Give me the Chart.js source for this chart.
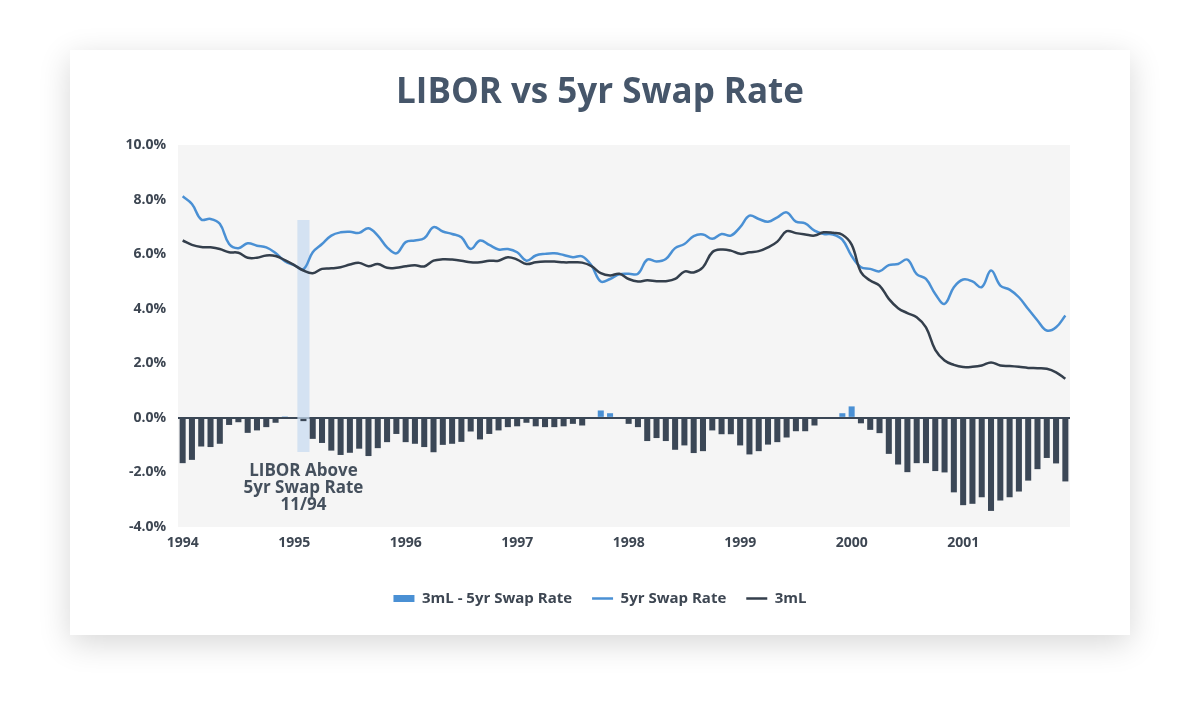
<!DOCTYPE html>
<html>
<head>
<meta charset="utf-8">
<title>LIBOR vs 5yr Swap Rate</title>
<script src="https://cdn.jsdelivr.net/npm/chart.js@4.4.1/dist/chart.umd.min.js"></script>
<style>
  body { margin: 0; background: #fff; width: 1200px; height: 724px; overflow: hidden; position: relative; }
  #card { position: absolute; left: 70px; top: 50px; width: 1060px; height: 585px; background: #fff;
          box-shadow: 0 8px 30px rgba(0, 0, 0, 0.16); }
  #chart { position: absolute; left: 0; top: 0; }
</style>
</head>
<body>
<div id="card"></div>
<canvas id="chart" width="1200" height="724"></canvas>
<script>
// monthly, Jan 1994 - Dec 2001
const years = [1994, 1995, 1996, 1997, 1998, 1999, 2000, 2001];
const months = ['Jan', 'Feb', 'Mar', 'Apr', 'May', 'Jun', 'Jul', 'Aug', 'Sep', 'Oct', 'Nov', 'Dec'];

// 3 month LIBOR (%)
const libor = [
  6.50, 6.34, 6.26, 6.25, 6.19, 6.07, 6.05, 5.87, 5.87, 5.95, 5.93, 5.78,
  5.60, 5.40, 5.30, 5.46, 5.48, 5.52, 5.62, 5.68, 5.56, 5.64, 5.50, 5.50,
  5.56, 5.59, 5.55, 5.76, 5.81, 5.80, 5.76, 5.70, 5.70, 5.76, 5.76, 5.89,
  5.80, 5.64, 5.70, 5.73, 5.73, 5.70, 5.70, 5.69, 5.56, 5.30, 5.22, 5.28,
  5.09, 5.00, 5.04, 5.01, 5.01, 5.09, 5.36, 5.33, 5.52, 6.07, 6.17, 6.13,
  6.01, 6.07, 6.11, 6.25, 6.46, 6.84, 6.77, 6.72, 6.68, 6.80, 6.78, 6.71,
  6.35, 5.34, 5.03, 4.85, 4.36, 4.02, 3.84, 3.69, 3.32, 2.49, 2.10, 1.94,
  1.86, 1.87, 1.92, 2.03, 1.92, 1.90, 1.87, 1.83, 1.82, 1.80, 1.67, 1.43
];

// 5yr swap rate (%)
const swap = [
  8.12, 7.84, 7.27, 7.29, 7.11, 6.37, 6.22, 6.40, 6.31, 6.25, 6.04, 5.74,
  5.60, 5.45, 6.07, 6.37, 6.68, 6.80, 6.82, 6.78, 6.95, 6.68, 6.25, 6.03,
  6.44, 6.50, 6.58, 6.99, 6.83, 6.74, 6.62, 6.19, 6.50, 6.34, 6.17, 6.19,
  6.07, 5.76, 5.95, 6.01, 6.03, 5.97, 5.89, 5.92, 5.58, 5.00, 5.09, 5.26,
  5.28, 5.28, 5.80, 5.73, 5.82, 6.22, 6.37, 6.66, 6.72, 6.56, 6.74, 6.68,
  6.99, 7.41, 7.29, 7.19, 7.35, 7.53, 7.19, 7.13, 6.86, 6.74, 6.72, 6.53,
  5.93, 5.52, 5.46, 5.37, 5.60, 5.64, 5.80, 5.27, 5.09, 4.54, 4.18, 4.79,
  5.07, 5.00, 4.79, 5.40, 4.85, 4.70, 4.42, 3.99, 3.57, 3.20, 3.32, 3.75
];

// 3mL - 5yr swap (%)
const spread = [
  -1.66, -1.54, -1.05, -1.07, -0.95, -0.26, -0.16, -0.55, -0.46, -0.34, -0.18, 0.05,
  0, -0.12, -0.77, -0.92, -1.20, -1.36, -1.28, -1.13, -1.40, -1.11, -0.89, -0.59,
  -0.89, -0.95, -1.07, -1.26, -0.99, -0.95, -0.88, -0.50, -0.79, -0.59, -0.46, -0.34,
  -0.31, -0.18, -0.31, -0.34, -0.34, -0.31, -0.22, -0.28, 0, 0.27, 0.17, 0,
  -0.22, -0.34, -0.85, -0.74, -0.85, -1.17, -1.01, -1.29, -1.22, -0.46, -0.60, -0.60,
  -1.01, -1.34, -1.22, -0.98, -0.89, -0.72, -0.49, -0.49, -0.28, 0, 0, 0.17,
  0.42, -0.20, -0.44, -0.56, -1.32, -1.71, -1.99, -1.66, -1.66, -1.95, -2.00, -2.73,
  -3.20, -3.15, -2.91, -3.41, -3.03, -2.91, -2.70, -2.30, -1.88, -1.47, -1.67, -2.33
];

// shaded marker and its note
const markIndex = 13;
const markRange = [-1.25, 7.25];
const noteLines = ['LIBOR Above', '5yr Swap Rate', '11/94'];
const noteTop = -1.95;

const BLUE = '#4a90d4';
const DARK = '#3b4756';
const SLATE = '#46566a';
const TEXT = '#3d4652';

const categories = years.flatMap(y => months.map(m => m + ' ' + y));
const band = categories.map((c, i) => i === markIndex ? markRange : null);

const plotBg = {
  id: 'plotBg',
  beforeDraw(chart) {
    const { ctx, chartArea: a } = chart;
    ctx.save();
    ctx.fillStyle = '#f5f5f5';
    ctx.fillRect(a.left, a.top, a.right - a.left, a.bottom - a.top);
    ctx.restore();
  }
};

const note = {
  id: 'note',
  afterDatasetsDraw(chart) {
    const { ctx, scales: { x, y } } = chart;
    ctx.save();
    ctx.font = 'bold 17px "Open Sans"';
    ctx.fillStyle = '#45505d';
    ctx.textAlign = 'center';
    ctx.textBaseline = 'middle';
    const cx = x.getPixelForValue(markIndex);
    const top = y.getPixelForValue(noteTop);
    noteLines.forEach((t, k) => ctx.fillText(t, cx, top + k * 17));
    ctx.restore();
  }
};

new Chart(document.getElementById('chart'), {
  type: 'bar',
  data: {
    labels: categories,
    datasets: [{
      type: 'bar',
      label: '3mL - 5yr Swap Rate',
      data: spread,
      backgroundColor: c => c.raw < 0 ? DARK : BLUE,
      borderWidth: 0,
      barPercentage: 0.65,
      categoryPercentage: 1,
      grouped: false,
      pointStyle: 'rect',
      order: 3
    },
    {
      type: 'line',
      label: '5yr Swap Rate',
      data: swap,
      borderColor: BLUE,
      backgroundColor: BLUE,
      borderWidth: 2.5,
      pointRadius: 0,
      tension: 0.4,
      pointStyle: 'line',
      order: 2
    },
    {
      type: 'line',
      label: '3mL',
      data: libor,
      borderColor: '#343f4c',
      backgroundColor: '#343f4c',
      borderWidth: 2.5,
      pointRadius: 0,
      tension: 0.4,
      pointStyle: 'line',
      order: 1
    },
    {
      type: 'bar',
      label: '',
      data: band,
      backgroundColor: 'rgba(200, 219, 240, 0.75)',
      borderWidth: 0,
      barPercentage: 1.3,
      categoryPercentage: 1,
      grouped: false,
      order: 10
    }]
  },
  options: {
    responsive: false,
    animation: false,
    layout: {
      padding: { left: 70, right: 70, top: 50, bottom: 108 }
    },
    scales: {
      x: {
        grid: { display: false, drawTicks: false },
        border: { display: false },
        ticks: {
          autoSkip: false,
          maxRotation: 0,
          padding: 8,
          color: TEXT,
          font: { family: 'Open Sans', size: 14, weight: 'bold' },
          callback: (v, i) => i % 12 === 0 ? years[i / 12] : ''
        },
        afterFit: s => { s.height = 44; }
      },
      y: {
        min: -4,
        max: 10,
        ticks: {
          stepSize: 2,
          padding: 12,
          color: TEXT,
          font: { family: 'Open Sans', size: 14, weight: 'bold' },
          callback: v => v.toFixed(1) + '%'
        },
        grid: {
          drawTicks: false,
          color: c => c.tick.value === 0 ? DARK : 'transparent',
          lineWidth: 2
        },
        border: { display: false },
        afterFit: s => { s.width = 108; }
      },
      // empty right-hand spacer so the plot ends where the card's margin starts
      spacer: {
        position: 'right',
        min: 0,
        max: 1,
        grid: { display: false, drawTicks: false },
        border: { display: false },
        ticks: { display: false },
        afterFit: s => { s.width = 60; }
      }
    },
    plugins: {
      title: {
        display: true,
        text: 'LIBOR vs 5yr Swap Rate',
        color: SLATE,
        font: { family: 'Open Sans', size: 35, weight: 'bold' },
        padding: { top: 22, bottom: 31 }
      },
      legend: {
        position: 'bottom',
        labels: {
          usePointStyle: true,
          pointStyleWidth: 21,
          boxHeight: 7,
          padding: 20,
          color: TEXT,
          font: { family: 'Open Sans', size: 15, weight: 'bold' },
          sort: (a, b) => a.datasetIndex - b.datasetIndex,
          generateLabels(chart) {
            const items = Chart.defaults.plugins.legend.labels.generateLabels(chart);
            items.forEach(it => {
              if (it.datasetIndex === 0) { it.fillStyle = BLUE; it.strokeStyle = BLUE; it.lineWidth = 0; }
            });
            return items.filter(it => it.text);
          }
        }
      },
      tooltip: { enabled: false }
    }
  },
  plugins: [plotBg, note]
});
</script>
</body>
</html>
